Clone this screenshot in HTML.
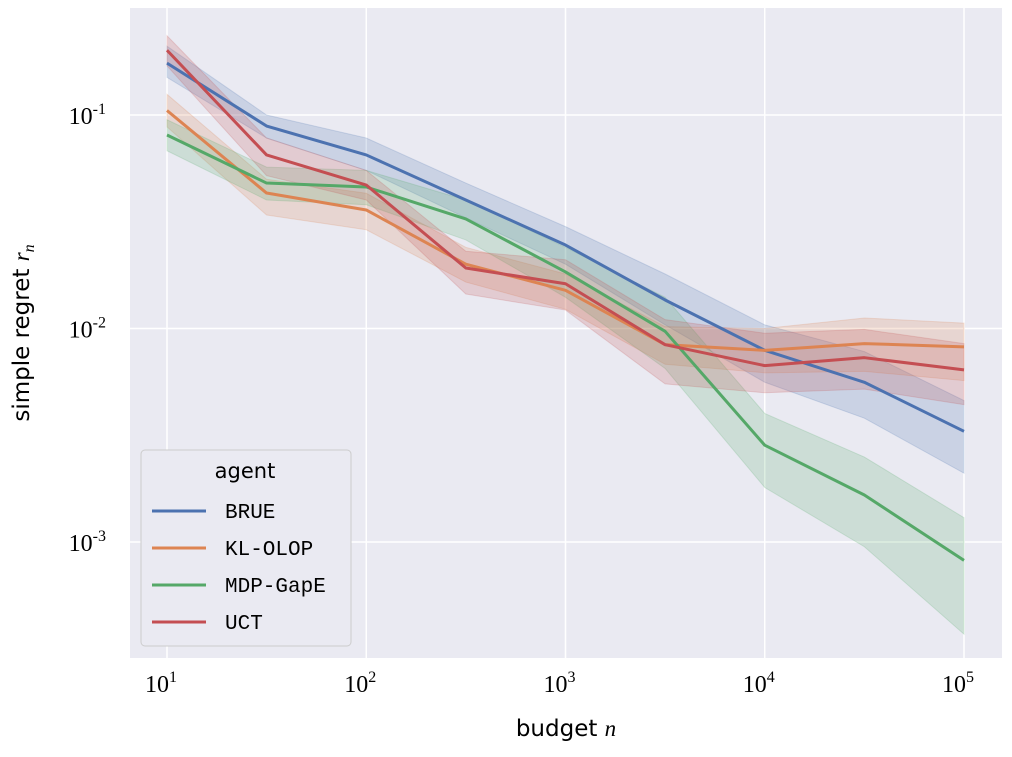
<!DOCTYPE html>
<html><head><meta charset="utf-8"><style>
body{margin:0;background:#fff;}
svg text{font-family:"Liberation Serif",serif;}
</style></head><body>
<svg id="chart" width="1012" height="752" xmlns="http://www.w3.org/2000/svg">
<rect x="130" y="8" width="872" height="650" fill="#eaeaf2"/>
<g id="grid"></g><g id="bands"></g><g id="lines"></g><g id="ticks"></g>
<text x="566" y="736" text-anchor="middle" font-size="23" style="font-family:'DejaVu Sans',sans-serif">budget <tspan font-style="italic" style="font-family:'Liberation Serif',serif">n</tspan></text>
<text transform="translate(29,333) rotate(-90)" text-anchor="middle" font-size="23" style="font-family:'DejaVu Sans',sans-serif">simple regret <tspan font-style="italic" style="font-family:'Liberation Serif',serif">r</tspan><tspan font-style="italic" font-size="16" dy="5" style="font-family:'Liberation Serif',serif">n</tspan></text>
<g id="legend">
<rect x="141" y="450" width="210" height="196" rx="4" fill="#eaeaf2" stroke="#cccccc" stroke-width="1"/>
<text x="245" y="478" text-anchor="middle" font-size="21" style="font-family:'DejaVu Sans',sans-serif">agent</text>
</g>
</svg>
<script>
const budgets=[10,31.6,100,316,1000,3162,10000,31623,100000];
const agents=["BRUE","KL-OLOP","MDP-GapE","UCT"];
const colors=["#4c72b0","#dd8452","#55a868","#c44e52"];
const brue=[0.175,0.0888,0.065,0.040,0.0246,0.0136,0.0079,0.0056,0.0033];
const bruelo=[0.15,0.078,0.055,0.033,0.020,0.0104,0.0056,0.0038,0.0021];
const bruehi=[0.21,0.10,0.078,0.048,0.030,0.018,0.0104,0.0078,0.0046];
const klolop=[0.105,0.0431,0.0359,0.020,0.0151,0.0084,0.0079,0.0085,0.0082];
const klolo=[0.088,0.034,0.029,0.0165,0.0123,0.0068,0.0062,0.0063,0.0057];
const klohi=[0.125,0.05,0.043,0.024,0.018,0.0102,0.0100,0.0112,0.0106];
const mdp=[0.0806,0.048,0.046,0.0326,0.0184,0.0097,0.00284,0.00166,0.00082];
const mdplo=[0.068,0.040,0.038,0.026,0.014,0.0065,0.0018,0.00095,0.00037];
const mdphi=[0.095,0.057,0.055,0.040,0.024,0.014,0.0040,0.0025,0.0013];
const uct=[0.201,0.065,0.047,0.0192,0.0162,0.0084,0.0067,0.0073,0.0064];
const uctlo=[0.17,0.052,0.040,0.0145,0.0122,0.0055,0.0050,0.0052,0.0044];
const ucthi=[0.235,0.078,0.055,0.023,0.021,0.0110,0.0095,0.0099,0.0085];
const xTickExp=[1,2,3,4,5];
const yTickExp=[-1,-2,-3];
const series=[[brue,bruelo,bruehi],[klolop,klolo,klohi],[mdp,mdplo,mdphi],[uct,uctlo,ucthi]];
const NS="http://www.w3.org/2000/svg";
const X=v=>167+(Math.log10(v)-1)*199.25;
const Y=v=>115+(-1-Math.log10(v))*213.5;
function mk(tag,attrs,parent){const e=document.createElementNS(NS,tag);for(const k in attrs)e.setAttribute(k,attrs[k]);parent.appendChild(e);return e;}
const grid=document.getElementById('grid'),ticks=document.getElementById('ticks');
xTickExp.forEach(p=>{const x=X(Math.pow(10,p));
 const l=mk('line',{x1:x,x2:x,y1:8,y2:658,stroke:'#fff','stroke-width':1.5},grid);
 
 
 const t=mk('text',{x:x-6,y:692,'text-anchor':'middle','font-size':24},ticks);
 
 
 t.innerHTML='10<tspan font-size="16" dy="-10">'+p+'</tspan>';});
yTickExp.forEach(p=>{const y=Y(Math.pow(10,p));
 const l=mk('line',{x1:130,x2:1002,y1:y,y2:y,stroke:'#fff','stroke-width':1.5},grid);
 
 
 const t=mk('text',{x:106,y:y+9,'text-anchor':'end','font-size':24},ticks);
 
 
 t.innerHTML='10<tspan font-size="16" dy="-10">'+p+'</tspan>';});
const bands=document.getElementById('bands'),lines=document.getElementById('lines');
series.forEach((s,i)=>{
 const [m,lo,hi]=s;
 let d=hi.map((v,j)=>(j?'L':'M')+X(budgets[j])+','+Y(v)).join('');
 for(let j=lo.length-1;j>=0;j--)d+='L'+X(budgets[j])+','+Y(lo[j]);
 const b=mk('path',{d:d+'Z',fill:colors[i],'fill-opacity':0.2,stroke:colors[i],'stroke-opacity':0.2},bands);
 
 
 const ld=m.map((v,j)=>(j?'L':'M')+X(budgets[j])+','+Y(v)).join('');
 const p=mk('path',{d:ld,fill:'none',stroke:colors[i],'stroke-width':3,'stroke-linejoin':'round'},lines);
 
 
});
const lg=document.getElementById('legend');
agents.forEach((a,i)=>{const y=511+i*37;
 mk('line',{x1:152,x2:206,y1:y,y2:y,stroke:colors[i],'stroke-width':3},lg);
 const t=mk('text',{x:225,y:y+7,'font-size':21,style:"font-family:'Liberation Mono',monospace"},lg);
 
 
 t.textContent=a;});
</script>
</body></html>
